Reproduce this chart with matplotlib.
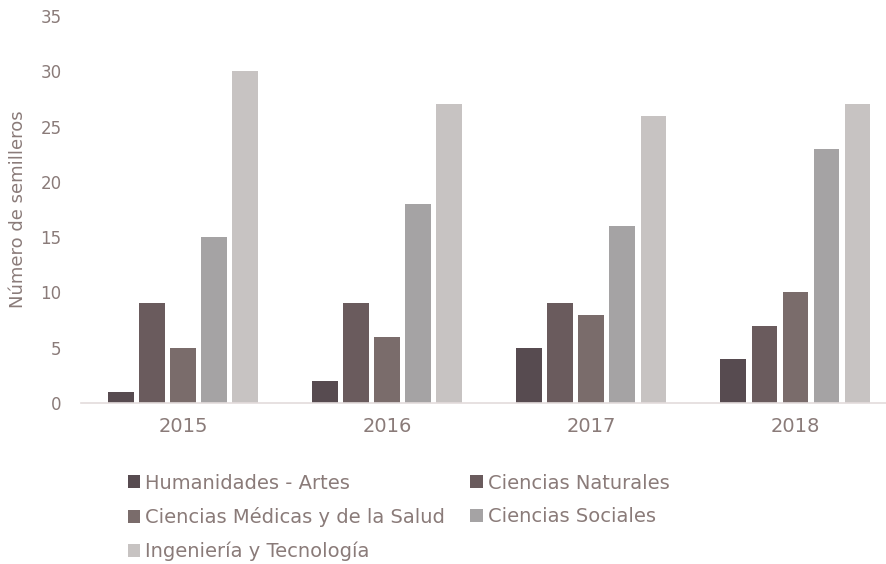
import matplotlib.pyplot as plt
import numpy as np

years = ["2015", "2016", "2017", "2018"]
areas = ["Humanidades - Artes", "Ciencias Naturales",
         "Ciencias Médicas y de la Salud", "Ciencias Sociales",
         "Ingeniería y Tecnología"]
humanidades = [1, 2, 5, 4]
naturales = [9, 9, 9, 7]
medicas = [5, 6, 8, 10]
sociales = [15, 18, 16, 23]
ingenieria = [30, 27, 26, 27]

series = [humanidades, naturales, medicas, sociales, ingenieria]
colors = ["#574b50", "#6a5b5d", "#7a6c6b", "#a5a3a4", "#c7c3c2"]
text_color = "#8a7b79"

plt.rcParams['font.family'] = ['DejaVu Sans']

fig = plt.figure(figsize=(8.87, 5.64), dpi=100)
ax = fig.add_axes([81 / 887, 161 / 564, 806 / 887, 387 / 564])

x = np.arange(len(years))
step = 0.152
width = 0.124
bars = []
for i, (vals, c) in enumerate(zip(series, colors)):
    bars.append(ax.bar(x + (i - 2) * step, vals, width, color=c, label=areas[i]))

ax.set_xlim(-0.5, 3.45)
ax.set_ylim(0, 35)
ax.set_yticks(range(0, 36, 5))
ax.set_xticks(x)
ax.set_xticklabels(years, fontsize=14, color=text_color)
ax.tick_params(axis='y', labelsize=12, colors=text_color, length=0, pad=14)
ax.tick_params(axis='x', length=0, pad=10)
ax.set_ylabel("Número de semilleros", fontsize=13, color=text_color, labelpad=10)

for s in ["top", "right", "left"]:
    ax.spines[s].set_visible(False)
ax.spines["bottom"].set_color("#e3dcdc")
ax.spines["bottom"].set_linewidth(1.2)

# legend fills by column, so reorder to read row by row
order = [0, 2, 4, 1, 3]
leg = fig.legend([bars[i] for i in order], [areas[i] for i in order],
                 loc="upper left", bbox_to_anchor=(120 / 887, 1 - 466 / 564),
                 ncol=2, frameon=False, fontsize=14, handlelength=0.65,
                 handleheight=0.65, handletextpad=0.25, columnspacing=1.3,
                 labelspacing=0.75, borderaxespad=0)
for t in leg.get_texts():
    t.set_color(text_color)

fig.savefig("out.png", dpi=100)
